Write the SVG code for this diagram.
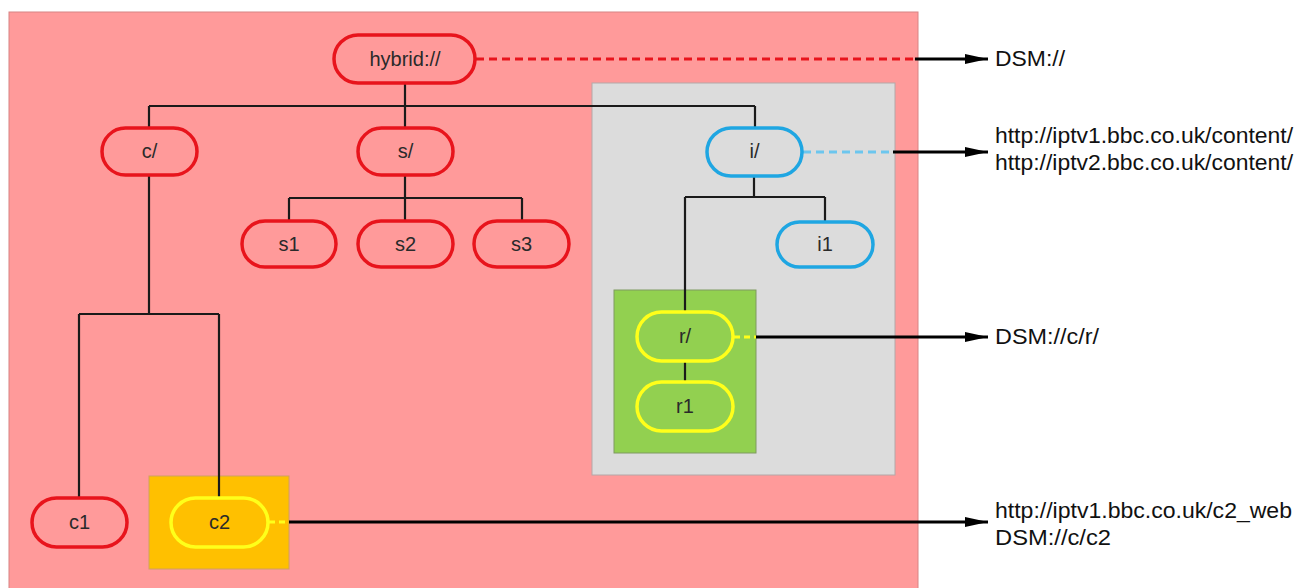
<svg xmlns="http://www.w3.org/2000/svg" width="1295" height="588" viewBox="0 0 1295 588">
<defs>
<style>
.node{fill:none;stroke-width:3.5}
.red{stroke:#e8141c}
.blue{stroke:#1fa6e2}
.yel{stroke:#ffff1a}
.lbl{font-family:"Liberation Sans",Arial,sans-serif;font-size:20px;fill:#2a2a2a;text-anchor:middle}
.out{font-family:"Liberation Sans",Arial,sans-serif;font-size:22px;fill:#111}
.tree{stroke:#1a1a1a;stroke-width:2.2;fill:none}
.arr{stroke:#000;stroke-width:3;fill:none}
</style>
<marker id="ah" viewBox="0 0 23 10" refX="23" refY="5" markerWidth="23" markerHeight="10" markerUnits="userSpaceOnUse" orient="auto">
<path d="M0,0 L23,5 L0,10 Z" fill="#000"/>
</marker>
</defs>
<rect width="1295" height="588" fill="#fff"/>
<g id="areas">
<rect x="9" y="12" width="909" height="590" fill="#ff9a9a" stroke="#d88484" stroke-width="1"/>
<rect x="592" y="83" width="303" height="392" fill="#dcdcdc" stroke="#b4a8a8" stroke-width="1"/>
<rect x="614" y="290" width="142" height="163" fill="#92d050" stroke="#7f9a60" stroke-width="1"/>
<rect x="149" y="476" width="140" height="93" fill="#ffc000" stroke="#d0a060" stroke-width="1"/>
</g>
<g id="connectors">
<path class="tree" d="M405,83 V106 M149,106 H755 M149,106 V128 M405,106 V128 M755,106 V128"/>
<path class="tree" d="M405,175 V198 M289,198 H522 M289,198 V221 M405,198 V221 M522,198 V221"/>
<path class="tree" d="M754,176 V197 M685,197 H825 M685,197 V312 M825,197 V222"/>
<path class="tree" d="M685,361 V382"/>
<path class="tree" d="M149,175 V314 M79,314 H219 M79,314 V498 M219,314 V498"/>
<line x1="476" y1="59" x2="915" y2="59" stroke="#e8141c" stroke-width="3" stroke-dasharray="8,5"/>
<line x1="915" y1="59" x2="988" y2="59" class="arr" marker-end="url(#ah)"/>
<line x1="803" y1="152" x2="893" y2="152" stroke="#6cc6ee" stroke-width="3" stroke-dasharray="8,5"/>
<line x1="893" y1="152" x2="988" y2="152" class="arr" marker-end="url(#ah)"/>
<line x1="734" y1="337" x2="756" y2="337" stroke="#ffff1a" stroke-width="3" stroke-dasharray="6,4"/>
<line x1="756" y1="337" x2="988" y2="337" class="arr" marker-end="url(#ah)"/>
<line x1="269" y1="522" x2="289" y2="522" stroke="#ffff1a" stroke-width="3" stroke-dasharray="6,4"/>
<line x1="289" y1="522" x2="988" y2="522" class="arr" marker-end="url(#ah)"/>
</g>
<g id="n-hybrid"><rect class="node red" x="334" y="35" width="141" height="48" rx="24"/><text class="lbl" x="405" y="66">hybrid://</text></g>
<g id="n-c"><rect class="node red" x="102" y="128" width="95" height="47" rx="23.5"/><text class="lbl" x="149.5" y="158">c/</text></g>
<g id="n-s"><rect class="node red" x="358" y="128" width="95" height="47" rx="23.5"/><text class="lbl" x="405.5" y="158">s/</text></g>
<g id="n-s1"><rect class="node red" x="242" y="221" width="94" height="46" rx="23"/><text class="lbl" x="289" y="251">s1</text></g>
<g id="n-s2"><rect class="node red" x="358" y="221" width="95" height="46" rx="23"/><text class="lbl" x="405.5" y="251">s2</text></g>
<g id="n-s3"><rect class="node red" x="474" y="221" width="95" height="46" rx="23"/><text class="lbl" x="521.5" y="251">s3</text></g>
<g id="n-i"><rect class="node blue" x="707" y="128" width="95" height="48" rx="24"/><text class="lbl" x="754.5" y="158">i/</text></g>
<g id="n-i1"><rect class="node blue" x="777" y="222" width="96" height="45" rx="22.5"/><text class="lbl" x="825" y="251">i1</text></g>
<g id="n-r"><rect class="node yel" x="637" y="312" width="96" height="49" rx="24.5"/><text class="lbl" x="685" y="343">r/</text></g>
<g id="n-r1"><rect class="node yel" x="637" y="382" width="96" height="49" rx="24.5"/><text class="lbl" x="685" y="413">r1</text></g>
<g id="n-c1"><rect class="node red" x="32" y="498" width="95" height="49" rx="24.5"/><text class="lbl" x="79.5" y="529">c1</text></g>
<g id="n-c2"><rect class="node yel" x="171" y="498" width="97" height="49" rx="24.5"/><text class="lbl" x="219.5" y="529">c2</text></g>
<g id="targets">
<text class="out" x="995" y="66" textLength="70" lengthAdjust="spacingAndGlyphs">DSM://</text>
<text class="out" x="995" y="143" textLength="298" lengthAdjust="spacingAndGlyphs">http://iptv1.bbc.co.uk/content/</text>
<text class="out" x="995" y="170" textLength="298" lengthAdjust="spacingAndGlyphs">http://iptv2.bbc.co.uk/content/</text>
<text class="out" x="995" y="344" textLength="104" lengthAdjust="spacingAndGlyphs">DSM://c/r/</text>
<text class="out" x="995" y="518" textLength="297" lengthAdjust="spacingAndGlyphs">http://iptv1.bbc.co.uk/c2_web</text>
<text class="out" x="995" y="545" textLength="116" lengthAdjust="spacingAndGlyphs">DSM://c/c2</text>
</g>
</svg>
